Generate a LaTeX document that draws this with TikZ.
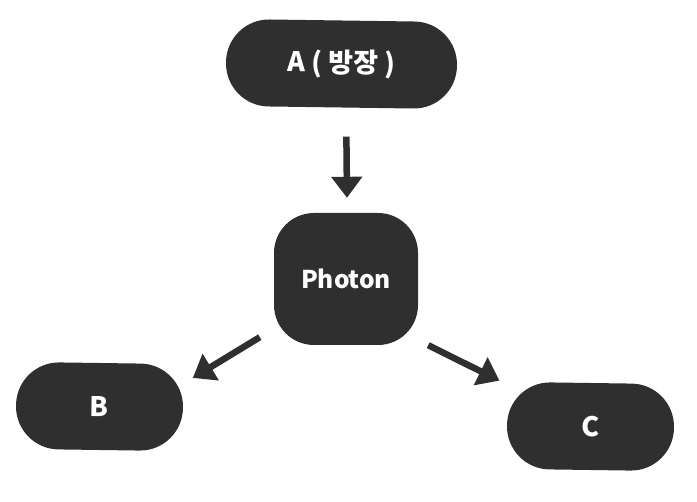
\documentclass[tikz,border=0pt]{standalone}
\usepackage{fontspec}
\newfontfamily\kr{Noto Sans CJK KR}
\usetikzlibrary{arrows.meta}
\definecolor{dk}{HTML}{2F2F2F}
\tikzset{
  pill/.style={rectangle, fill=dk, text=white, inner sep=0pt, rounded corners=43pt,
    minimum height=87pt, font=\kr\bfseries\fontsize{27}{30}\selectfont},
  squarebox/.style={rectangle, fill=dk, text=white, inner sep=0pt, rounded corners=40pt,
    minimum width=144pt, minimum height=132pt, font=\kr\bfseries\fontsize{24.5}{28}\selectfont},
  arr/.style={draw=dk, line width=6.5pt, -{Triangle[length=21pt,width=30pt]}}
}
\begin{document}
\begin{tikzpicture}[x=1pt,y=-1pt]
\useasboundingbox (0,0) rectangle (697,502);
\node[pill, minimum width=231pt, rotate=-0.8] (A) at (341.5,64) {A ( 방장 )};
\node[squarebox] (P) at (346,279) {Photon};
\node[pill, minimum width=167pt, rotate=-0.8] (B) at (99.5,406.5) {B};
\node[pill, minimum width=167pt, rotate=-0.8] (C) at (590.5,426.5) {C};
\draw[arr] ([xshift=5.5pt,yshift=-29pt]A.south) -- ([xshift=1pt,yshift=15pt]P.north);
\draw[arr] ([xshift=-14pt,yshift=8pt]P.south west) -- ([xshift=9pt,yshift=-14pt]B.north east);
\draw[arr] ([xshift=10pt]P.south east) -- ([xshift=-8pt,yshift=1pt]C.north west);
\end{tikzpicture}
\end{document}
